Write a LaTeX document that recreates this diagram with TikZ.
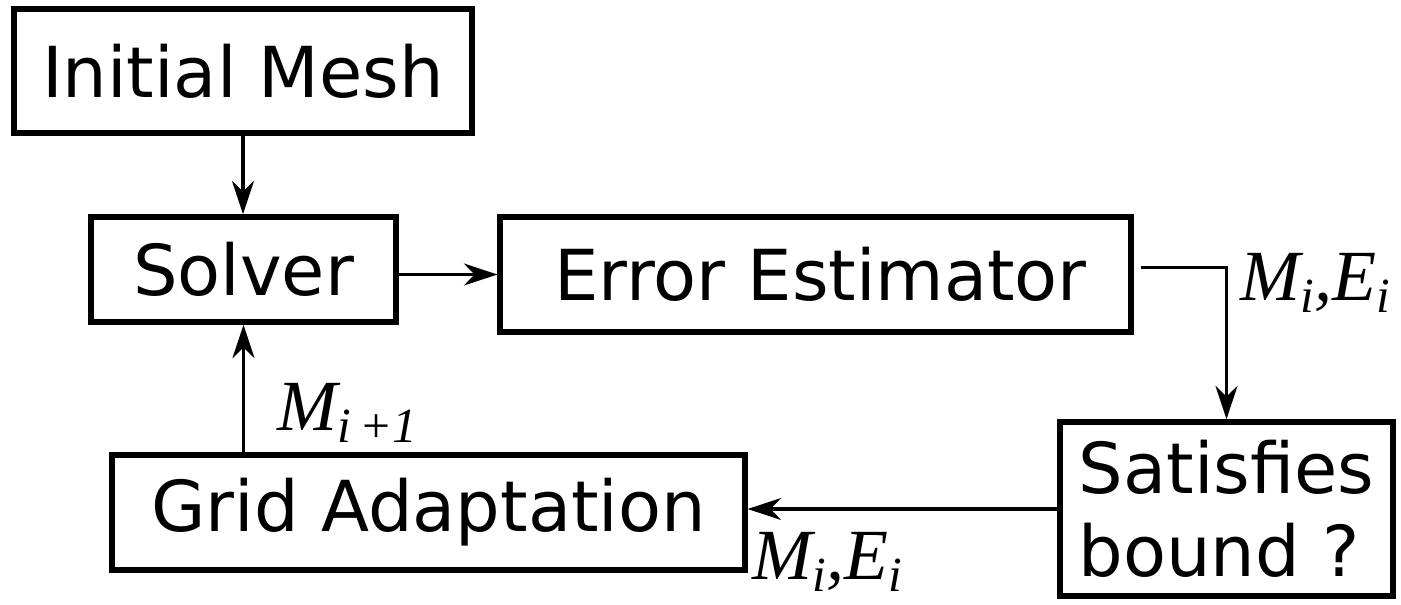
\documentclass[tikz,border=0pt]{standalone}
\usepackage{fontspec}
\setmainfont{DejaVu Sans}
\newfontfamily\labfont{Liberation Serif}
\usetikzlibrary{positioning,arrows.meta,calc}
\newcommand{\lsub}[1]{\raisebox{-7pt}{\fontsize{28}{30}\selectfont #1}}

\begin{document}
\begin{tikzpicture}[
  x=0.02cm, y=-0.02cm,
  font=\fontsize{40}{47}\selectfont,
  blk/.style={draw=black, line width=3.1pt, inner sep=0pt, align=left},
  flow/.style={-{Stealth[length=19pt, width=12.5pt, inset=6pt]}, line width=1.9pt},
  lbl/.style={font=\labfont\itshape\fontsize{41}{47}\selectfont, inner sep=0pt, anchor=base west}
]
\useasboundingbox (0,0) rectangle (1401,605);
% ---------- blocks ----------
\node[blk, minimum width=9.16cm, minimum height=2.48cm] (mesh) at (243,71) {Initial Mesh};
\node[blk, minimum width=6.10cm, minimum height=2.10cm] (solver) at (243.5,269.5) {Solver};
\node[blk, minimum width=12.62cm, minimum height=2.30cm] (errest) at (815.5,274.5) {\hspace{0.2cm}Error Estimator};
\node[blk, minimum width=6.66cm, minimum height=3.48cm] (bound) at (1226.5,509) {Satisfies\\bound ?};
\node[blk, minimum width=12.66cm, minimum height=2.30cm] (grid) at (428.5,512.5) {Grid Adaptation};
% ---------- loop ----------
\draw[flow] (mesh.south) -- (mesh.south |- solver.north);
\draw[flow] (solver.east |- errest.west) -- (errest.west);
\draw[flow] ([shift={(4pt,4pt)}]errest.east) -| (bound.north);
\draw[flow] (bound.west) -- (bound.west -| grid.east);
\draw[flow] (solver.south |- grid.north) -- (solver.south);
% ---------- labels ----------
\node[lbl] (lbest) at (1240,300) {M\lsub{i},E\lsub{i}};
\node[lbl] (lbgrid) at (752,579) {M\lsub{i},E\lsub{i}};
\node[lbl] (lbnext) at (277,430) {M\lsub{i\,+1}};
\end{tikzpicture}
\end{document}
